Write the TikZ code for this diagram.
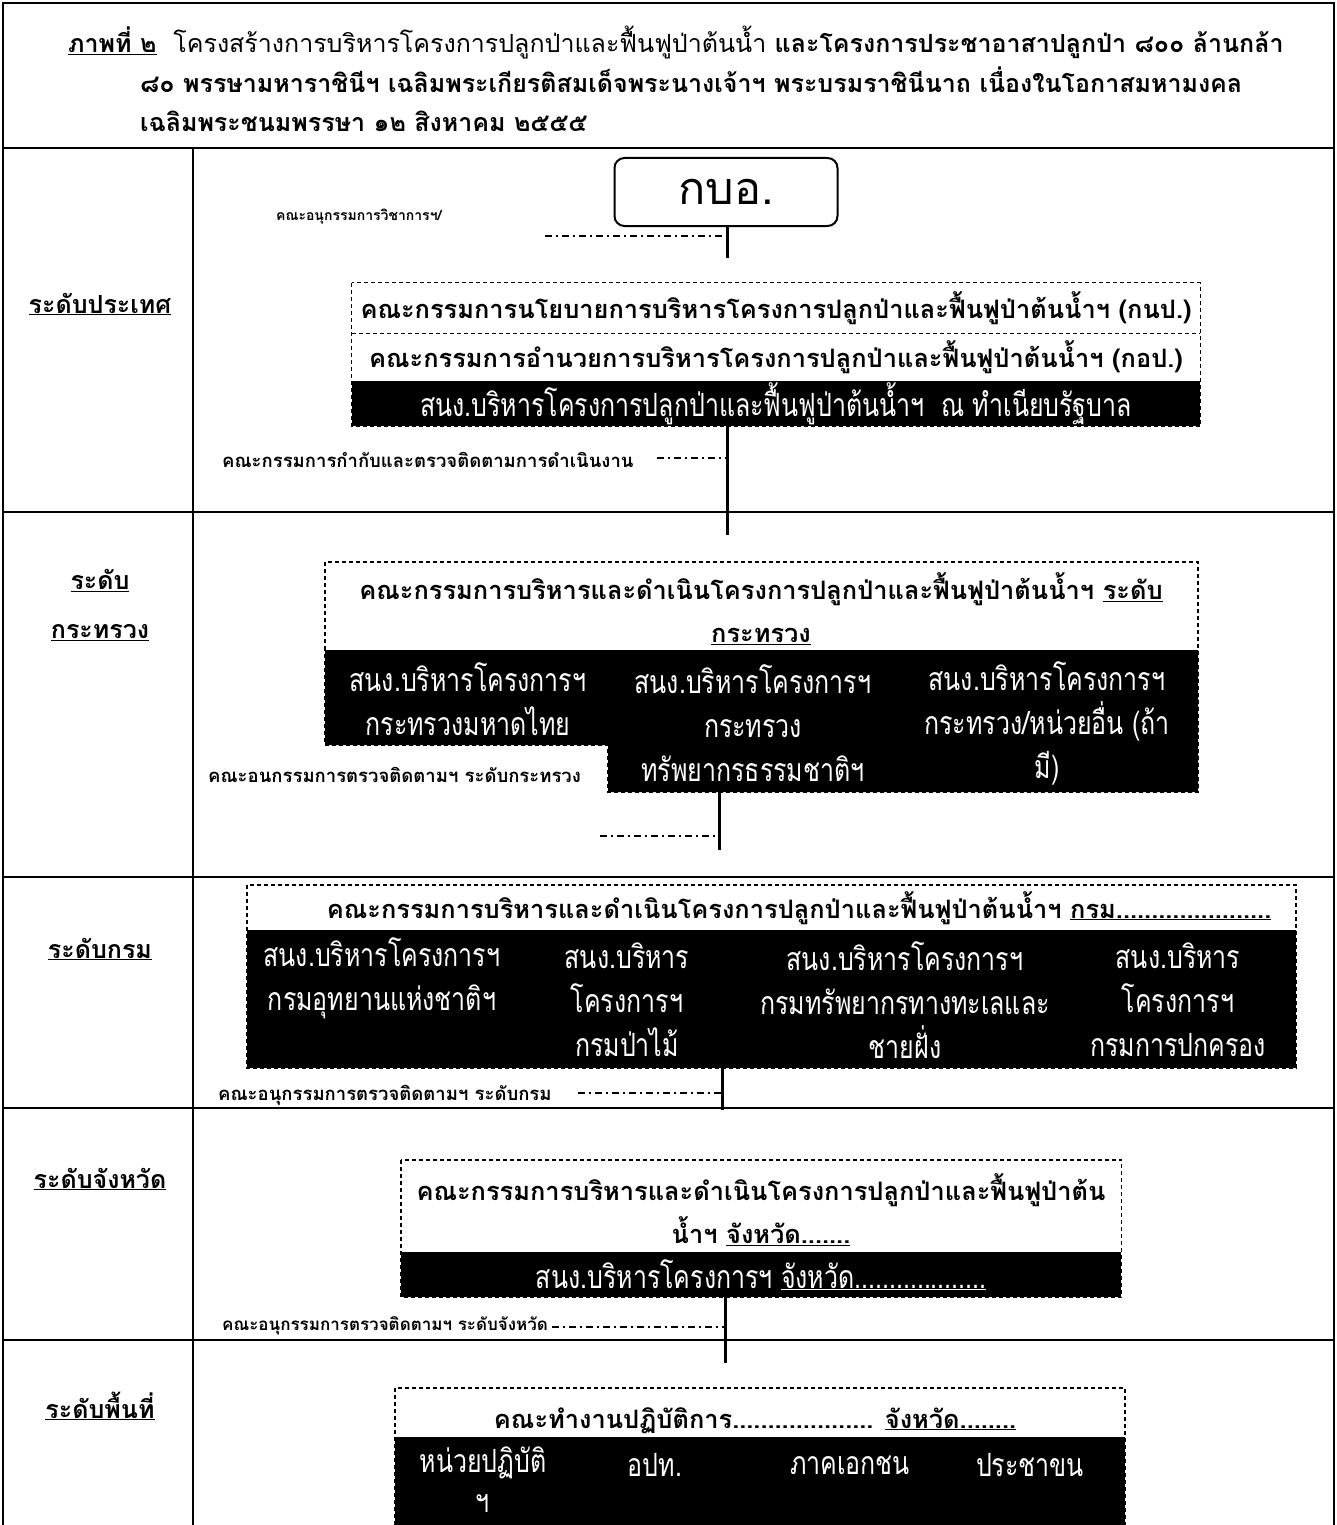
\documentclass[tikz,border=0pt]{standalone}
\usepackage{fontspec}
\setmainfont[Script=Thai]{Loma}
\newfontfamily\bandfont[Script=Thai,FakeStretch=0.78]{Loma}
\usetikzlibrary{positioning}

\begin{document}
\begin{tikzpicture}[x=1pt,y=-1pt,
  frame/.style={line width=2pt},
  rule/.style={line width=1.2pt},
  lvl/.style={font=\fontsize{25}{49}\selectfont\bfseries, align=center, inner sep=0pt},
  head/.style={font=\fontsize{25.4}{43}\selectfont\bfseries, align=center, inner sep=0pt},
  band/.style={font=\bandfont\fontsize{32}{44}\selectfont, text=white, align=center, inner sep=0pt},
  note/.style={font=\fontsize{18.5}{22}\selectfont\bfseries, anchor=base west, inner sep=0pt},
  dashbox/.style={line width=1.2pt, dash pattern=on 4pt off 3pt},
  dashdot/.style={line width=1.6pt, dash pattern=on 7pt off 4pt on 2pt off 4pt},
  trunk/.style={line width=3pt}]
  \useasboundingbox (0,0) rectangle (1337,1525);

  \draw[frame] (3,1525) -- (3,3) -- (1334,3) -- (1334,1525);
  \draw[rule] (3,148) -- (1334,148);
  \draw[rule] (193,148) -- (193,1525);
  \foreach \y in {512,877,1108,1340}
    \draw[rule] (3,\y) -- (1334,\y);

  \node[head, font=\fontsize{25}{43}\selectfont\bfseries, anchor=base west] (cap1) at (68,53) {\underline{ภาพที่ ๒}\ \ {\mdseries โครงสร้างการบริหารโครงการปลูกป่าและฟื้นฟูป่าต้นน้ำ} และโครงการประชาอาสาปลูกป่า ๘๐๐ ล้านกล้า};
  \node[head, font=\fontsize{25}{43}\selectfont\bfseries, anchor=base west] (cap2) at (140,93) {๘๐ พรรษามหาราชินีฯ เฉลิมพระเกียรติสมเด็จพระนางเจ้าฯ พระบรมราชินีนาถ เนื่องในโอกาสมหามงคล};
  \node[head, font=\fontsize{25}{43}\selectfont\bfseries, anchor=base west] (cap3) at (140,132) {เฉลิมพระชนมพรรษา ๑๒ สิงหาคม ๒๕๕๕};

  \node[lvl, anchor=base] (lv1) at (100,313) {\underline{ระดับประเทศ}};
  \node[lvl] (lv2) at (100,605) {\underline{ระดับ}\\\underline{กระทรวง}};
  \node[lvl, anchor=base] (lv3) at (100,958) {\underline{ระดับกรม}};
  \node[lvl, anchor=base] (lv4) at (100,1188) {\underline{ระดับจังหวัด}};
  \node[lvl, anchor=base] (lv5) at (100,1418) {\underline{ระดับพื้นที่}};

  % ระดับประเทศ
  \node[draw, rounded corners=10pt, line width=2pt, minimum width=223pt, minimum height=68pt,
    font=\fontsize{45}{50}\selectfont] (kbo) at (726,192) {กบอ.};
  \node[note, font=\fontsize{14}{20}\selectfont\bfseries] (n1) at (276,220) {คณะอนุกรรมการวิชาการฯ/};
  \coordinate (k1) at (727,258);
  \coordinate (d1) at (545,236);
  \draw[trunk] (kbo.south -| k1) -- (k1);
  \draw[dashdot] (d1) -- (d1 -| k1);

  \node[head, minimum width=848pt, minimum height=50pt] (knp) at (776,308)
    {คณะกรรมการนโยบายการบริหารโครงการปลูกป่าและฟื้นฟูป่าต้นน้ำฯ (กนป.)};
  \node[head, minimum width=848pt, minimum height=47pt, below=0pt of knp] (kop)
    {คณะกรรมการอำนวยการบริหารโครงการปลูกป่าและฟื้นฟูป่าต้นน้ำฯ (กอป.)};
  \node[band, fill=black, minimum width=848pt, minimum height=45pt, below=0pt of kop] (office)
    {สนง.บริหารโครงการปลูกป่าและฟื้นฟูป่าต้นน้ำฯ\ \ ณ ทำเนียบรัฐบาล};
  \draw[dashbox] (knp.north west) rectangle (office.south east);
  \draw[dashbox] (knp.south west) -- (knp.south east);
  \node[note] (n2) at (222,467) {คณะกรรมการกำกับและตรวจติดตามการดำเนินงาน};
  \coordinate (k2) at (727,535);
  \coordinate (d2) at (657,458);
  \draw[trunk] (office.south -| k2) -- (k2);
  \draw[dashdot] (d2) -- (d2 -| k2);

  % ระดับกระทรวง
  \fill (325,650) -- (1198,650) -- (1198,792) -- (608,792) -- (608,745) -- (325,745) -- cycle;
  \draw[dashbox] (325,650) -- (325,562) -- (1198,562) -- (1198,792) -- (608,792) -- (608,745) -- (325,745) -- cycle;
  \node[head] (minhead) at (761,609)
    {คณะกรรมการบริหารและดำเนินโครงการปลูกป่าและฟื้นฟูป่าต้นน้ำฯ \underline{ระดับ}\\\underline{กระทรวง}};
  \node[band] (min1) at (468,699) {สนง.บริหารโครงการฯ\\กระทรวงมหาดไทย};
  \node[band] (min2) at (753,723) {สนง.บริหารโครงการฯ\\กระทรวง\\ทรัพยากรธรรมชาติฯ};
  \node[band] (min3) at (1047,723) {สนง.บริหารโครงการฯ\\กระทรวง/หน่วยอื่น (ถ้า\\มี)};
  \node[note] (n3) at (208,782) {คณะอนกรรมการตรวจติดตามฯ ระดับกระทรวง};
  \coordinate (minfoot) at (719,792);
  \coordinate (k3) at (719,850);
  \coordinate (d3) at (600,836);
  \draw[trunk] (minfoot) -- (k3);
  \draw[dashdot] (d3) -- (d3 -| k3);

  % ระดับกรม
  \fill (247,930) rectangle (1296,1068);
  \draw[dashbox] (247,885) rectangle (1296,1068);
  \node[head, anchor=base] (dephead) at (799,918)
    {คณะกรรมการบริหารและดำเนินโครงการปลูกป่าและฟื้นฟูป่าต้นน้ำฯ \underline{กรม......................}};
  \node[band] (dep1) at (382,978) {สนง.บริหารโครงการฯ\\กรมอุทยานแห่งชาติฯ};
  \node[band] (dep2) at (627,1000) {สนง.บริหาร\\โครงการฯ\\กรมป่าไม้};
  \node[band] (dep3) at (905,1000) {สนง.บริหารโครงการฯ\\กรมทรัพยากรทางทะเลและ\\ชายฝั่ง};
  \node[band] (dep4) at (1178,1000) {สนง.บริหาร\\โครงการฯ\\กรมการปกครอง};
  \node[note] (n4) at (218,1100) {คณะอนุกรรมการตรวจติดตามฯ ระดับกรม};
  \coordinate (depfoot) at (722,1068);
  \coordinate (k4) at (722,1110);
  \coordinate (d4) at (578,1093);
  \draw[trunk] (depfoot) -- (k4);
  \draw[dashdot] (d4) -- (d4 -| k4);

  % ระดับจังหวัด
  \node[head] (provhead) at (761,1210)
    {คณะกรรมการบริหารและดำเนินโครงการปลูกป่าและฟื้นฟูป่าต้น\\น้ำฯ \underline{จังหวัด.......}};
  \node[band, fill=black, minimum width=720pt, minimum height=45pt, anchor=north west] (provband) at (401,1252)
    {สนง.บริหารโครงการฯ \underline{จังหวัด...................}};
  \draw[dashbox] (401,1160) rectangle (provband.south east);
  \node[note, font=\fontsize{17}{22}\selectfont\bfseries] (n5) at (222,1330) {คณะอนุกรรมการตรวจติดตามฯ ระดับจังหวัด};
  \coordinate (k5) at (725,1363);
  \coordinate (d5) at (552,1327);
  \draw[trunk] (provband.south -| k5) -- (k5);
  \draw[dashdot] (d5) -- (d5 -| k5);

  % ระดับพื้นที่
  \fill (395,1437) rectangle (1125,1525);
  \draw[dashbox] (395,1525) -- (395,1388) -- (1125,1388) -- (1125,1525);
  \node[head, anchor=base] (areahead) at (755,1428)
    {คณะทำงานปฏิบัติการ.................... \underline{จังหวัด........}};
  \node[band, font=\bandfont\fontsize{32}{40}\selectfont] (area1) at (483,1480) {หน่วยปฏิบัติ\\ฯ};
  \node[band] (area2) at (655,1465) {อปท.};
  \node[band] (area3) at (850,1465) {ภาคเอกชน};
  \node[band] (area4) at (1030,1465) {ประชาขน};
\end{tikzpicture}
\end{document}
